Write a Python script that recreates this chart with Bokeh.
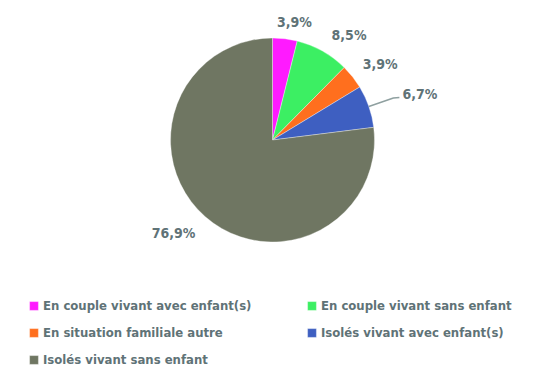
import math
from bokeh.plotting import figure
from bokeh.models import Range1d, ColumnDataSource, Legend, LegendItem
from bokeh.core.properties import value
from bokeh.embed import file_html
from bokeh.resources import INLINE

# ---- data ----
categories = ["En couple vivant avec enfant(s)", "En couple vivant sans enfant",
              "En situation familiale autre", "Isolés vivant avec enfant(s)",
              "Isolés vivant sans enfant"]
values = [3.9, 8.5, 3.9, 6.7, 76.9]
labels = ["3,9%", "8,5%", "3,9%", "6,7%", "76,9%"]
colors = ["#ff1aff", "#3cef63", "#ff6f1e", "#3e5fc1", "#6f7662"]

# ---- style / layout ----
FONT = "DejaVu Sans Condensed"
TEXT_COLOR = "#5f7377"
W, H = 535, 370
CX, CY, R = 272, -139.5, 102
label_radius = [120, 130, 132, 0, 136]
label_shift = [3.5, 6.7, 3.0, 0, 5.2]

p = figure(width=W, height=H, output_backend="svg", toolbar_location=None,
           x_range=Range1d(0, W), y_range=Range1d(-H, 0),
           min_border=0, outline_line_color=None)
p.axis.visible = False
p.grid.visible = False
p.background_fill_color = "white"

total = sum(values)
starts, ends, mids = [], [], []
cum = 0.0
for v in values:
    a0 = cum / total * 2 * math.pi
    cum += v
    a1 = cum / total * 2 * math.pi
    starts.append(math.pi / 2 - a0)
    ends.append(math.pi / 2 - a1)
    mids.append((a0 + a1) / 2)

src = ColumnDataSource(dict(start=starts, end=ends, color=colors, cat=categories))
wr = p.wedge(x=CX, y=CY, radius=R, start_angle="start", end_angle="end",
             direction="clock", fill_color="color", line_color="white",
             line_width=0.5, line_alpha=0.7, source=src)

# labels
lx, ly, lt = [], [], []
for i, m in enumerate(mids):
    if label_radius[i] == 0:
        continue
    th = m + math.radians(label_shift[i])
    lx.append(CX + label_radius[i] * math.sin(th))
    ly.append(CY + label_radius[i] * math.cos(th))
    lt.append(labels[i])
p.text(x=lx, y=ly, text=lt, text_align="center", text_baseline="middle",
       text_font=value(FONT), text_font_style="bold", text_font_size="14px",
       text_color=TEXT_COLOR)

# connector label (index 3)
m = mids[3]
ex, ey = CX + R * math.sin(m), CY + R * math.cos(m)
kx, ky = CX + 128 * math.sin(m), CY + 128 * math.cos(m)
p.line(x=[ex, kx, kx + 6], y=[ey, ky, ky + 0.5], line_color="#8fa0a0", line_width=1.5)
p.text(x=[kx + 9], y=[ky + 3.5], text=[labels[3]], text_align="left",
       text_baseline="middle", text_font=value(FONT), text_font_style="bold",
       text_font_size="14px", text_color=TEXT_COLOR)

items = [LegendItem(label=c, renderers=[wr], index=i) for i, c in enumerate(categories)]
legend = Legend(items=items, location=(28, 1), orientation="horizontal", ncols=2,
                glyph_width=11, glyph_height=11, label_width=256, label_height=20,
                label_standoff=4, spacing=7, padding=0, margin=0,
                border_line_color=None, background_fill_alpha=0,
                label_text_font=FONT, label_text_font_style="bold",
                label_text_font_size="13px", label_text_color=TEXT_COLOR)
p.add_layout(legend, "center")

open("out.html", "w").write(file_html(p, INLINE))
